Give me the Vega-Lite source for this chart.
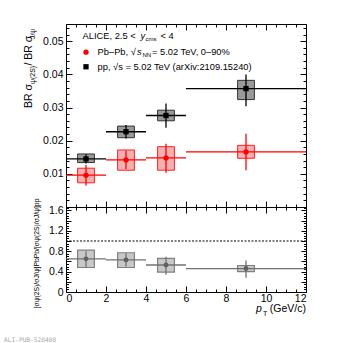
{
  "$schema": "https://vega.github.io/schema/vega-lite/v6.json",
  "padding": {"left": 3, "top": 23, "right": 5, "bottom": 0},
  "spacing": 0,
  "bounds": "flush",
  "config": {
    "view": {"stroke": "black", "strokeWidth": 1},
    "font": "Liberation Sans",
    "axis": {"grid": false, "domain": false, "tickColor": "black", "labelColor": "black", "titleColor": "black", "labelFont": "Liberation Sans", "titleFont": "Liberation Sans", "labelFontSize": 10.5, "titleFontWeight": "normal", "tickWidth": 1}
  },
  "datasets": {
    "pp": [
      {"pt": 1, "ptlo": 0, "pthi": 2, "bx0": 0.58, "bx1": 1.42, "val": 0.0145, "statlo": 0.0131, "stathi": 0.0159, "syslo": 0.0134, "syshi": 0.0160},
      {"pt": 3, "ptlo": 2, "pthi": 4, "bx0": 2.58, "bx1": 3.42, "val": 0.0227, "statlo": 0.0207, "stathi": 0.0247, "syslo": 0.0209, "syshi": 0.0244},
      {"pt": 5, "ptlo": 4, "pthi": 6, "bx0": 4.58, "bx1": 5.42, "val": 0.0276, "statlo": 0.0239, "stathi": 0.0312, "syslo": 0.0260, "syshi": 0.0292},
      {"pt": 9, "ptlo": 6, "pthi": 12, "bx0": 8.58, "bx1": 9.42, "val": 0.0357, "statlo": 0.0304, "stathi": 0.0400, "syslo": 0.0324, "syshi": 0.0382}
    ],
    "pbpb": [
      {"pt": 1, "ptlo": 0, "pthi": 2, "bx0": 0.58, "bx1": 1.42, "val": 0.0096, "statlo": 0.0065, "stathi": 0.0127, "syslo": 0.0073, "syshi": 0.0117},
      {"pt": 3, "ptlo": 2, "pthi": 4, "bx0": 2.58, "bx1": 3.42, "val": 0.0142, "statlo": 0.0115, "stathi": 0.0170, "syslo": 0.0111, "syshi": 0.0172},
      {"pt": 5, "ptlo": 4, "pthi": 6, "bx0": 4.58, "bx1": 5.42, "val": 0.0148, "statlo": 0.0103, "stathi": 0.0191, "syslo": 0.0111, "syshi": 0.0182},
      {"pt": 9, "ptlo": 6, "pthi": 12, "bx0": 8.58, "bx1": 9.42, "val": 0.0166, "statlo": 0.0111, "stathi": 0.0221, "syslo": 0.0147, "syshi": 0.0186}
    ],
    "ratio": [
      {"pt": 1, "ptlo": 0, "pthi": 2, "bx0": 0.58, "bx1": 1.42, "val": 0.65, "statlo": 0.49, "stathi": 0.80, "syslo": 0.48, "syshi": 0.82},
      {"pt": 3, "ptlo": 2, "pthi": 4, "bx0": 2.58, "bx1": 3.42, "val": 0.63, "statlo": 0.50, "stathi": 0.76, "syslo": 0.48, "syshi": 0.77},
      {"pt": 5, "ptlo": 4, "pthi": 6, "bx0": 4.58, "bx1": 5.42, "val": 0.53, "statlo": 0.34, "stathi": 0.69, "syslo": 0.39, "syshi": 0.66},
      {"pt": 9, "ptlo": 6, "pthi": 12, "bx0": 8.58, "bx1": 9.42, "val": 0.46, "statlo": 0.28, "stathi": 0.62, "syslo": 0.40, "syshi": 0.52}
    ],
    "one": [{}]
  },
  "vconcat": [
    {
      "width": 240,
      "height": 183,
      "resolve": {"axis": {"x": "independent", "y": "independent"}},
      "layer": [
        {
          "data": {"name": "pp"},
          "mark": {"type": "rect", "fill": "#9a9a9a", "stroke": "#333333", "strokeWidth": 1},
          "encoding": {
            "x": {"field": "bx0", "type": "quantitative", "scale": {"domain": [0, 12], "nice": false, "zero": false}, "axis": {"orient": "bottom", "labels": false, "tickSize": -6, "values": [0, 2, 4, 6, 8, 10, 12], "title": null}},
            "x2": {"field": "bx1"},
            "y": {"field": "syslo", "type": "quantitative", "scale": {"domain": [0, 0.0552], "nice": false, "zero": false}, "axis": {"orient": "left", "ticks": false, "labelPadding": 3, "values": [0.01, 0.02, 0.03, 0.04, 0.05], "format": ".2f", "title": null}},
            "y2": {"field": "syshi"}
          }
        },
        {
          "data": {"name": "pp"},
          "mark": {"type": "rule", "color": "black", "strokeWidth": 1.3},
          "encoding": {
            "x": {"field": "ptlo", "type": "quantitative", "axis": {"orient": "bottom", "labels": false, "tickSize": -3, "values": [0.5, 1, 1.5, 2.5, 3, 3.5, 4.5, 5, 5.5, 6.5, 7, 7.5, 8.5, 9, 9.5, 10.5, 11, 11.5], "title": null}},
            "x2": {"field": "pthi"},
            "y": {"field": "val", "type": "quantitative", "axis": {"orient": "left", "labels": false, "tickSize": -6, "values": [0.01, 0.02, 0.03, 0.04, 0.05], "title": null}}
          }
        },
        {
          "data": {"name": "pp"},
          "mark": {"type": "rule", "color": "black", "strokeWidth": 1.3},
          "encoding": {
            "x": {"field": "pt", "type": "quantitative", "axis": {"orient": "top", "labels": false, "tickSize": -6, "values": [0, 2, 4, 6, 8, 10, 12], "title": null}},
            "y": {"field": "statlo", "type": "quantitative", "axis": {"orient": "left", "labels": false, "tickSize": -3, "values": [0.002, 0.004, 0.006, 0.008, 0.012, 0.014, 0.016, 0.018, 0.022, 0.024, 0.026, 0.028, 0.032, 0.034, 0.036, 0.038, 0.042, 0.044, 0.046, 0.048, 0.052, 0.054], "title": null}},
            "y2": {"field": "stathi"}
          }
        },
        {
          "data": {"name": "pp"},
          "mark": {"type": "point", "shape": "square", "filled": true, "color": "black", "size": 28, "opacity": 1},
          "encoding": {
            "x": {"field": "pt", "type": "quantitative", "axis": {"orient": "top", "labels": false, "tickSize": -3, "values": [0.5, 1, 1.5, 2.5, 3, 3.5, 4.5, 5, 5.5, 6.5, 7, 7.5, 8.5, 9, 9.5, 10.5, 11, 11.5], "title": null}},
            "y": {"field": "val", "type": "quantitative", "axis": {"orient": "right", "labels": false, "tickSize": -6, "values": [0.01, 0.02, 0.03, 0.04, 0.05], "title": null}}
          }
        },
        {
          "data": {"name": "pbpb"},
          "mark": {"type": "rect", "fill": "#f4b0b0", "stroke": "#ff2020", "strokeWidth": 1},
          "encoding": {
            "x": {"field": "bx0", "type": "quantitative", "axis": null},
            "x2": {"field": "bx1"},
            "y": {"field": "syslo", "type": "quantitative", "axis": {"orient": "right", "labels": false, "tickSize": -3, "values": [0.002, 0.004, 0.006, 0.008, 0.012, 0.014, 0.016, 0.018, 0.022, 0.024, 0.026, 0.028, 0.032, 0.034, 0.036, 0.038, 0.042, 0.044, 0.046, 0.048, 0.052, 0.054], "title": null}},
            "y2": {"field": "syshi"}
          }
        },
        {
          "data": {"name": "pbpb"},
          "mark": {"type": "rule", "color": "#ff0000", "strokeWidth": 1.3},
          "encoding": {
            "x": {"field": "ptlo", "type": "quantitative", "axis": null},
            "x2": {"field": "pthi"},
            "y": {"field": "val", "type": "quantitative", "axis": null}
          }
        },
        {
          "data": {"name": "pbpb"},
          "mark": {"type": "rule", "color": "#ff0000", "strokeWidth": 1.3},
          "encoding": {
            "x": {"field": "pt", "type": "quantitative", "axis": null},
            "y": {"field": "statlo", "type": "quantitative", "axis": null},
            "y2": {"field": "stathi"}
          }
        },
        {
          "data": {"name": "pbpb"},
          "mark": {"type": "point", "shape": "circle", "filled": true, "color": "#ff0000", "size": 28, "opacity": 1},
          "encoding": {
            "x": {"field": "pt", "type": "quantitative", "axis": null},
            "y": {"field": "val", "type": "quantitative", "axis": null}
          }
        },
        {
          "data": {"name": "one"},
          "mark": {"type": "point", "shape": "circle", "filled": true, "color": "#ff0000", "size": 28, "opacity": 1},
          "encoding": {
            "x": {"datum": 1.0, "type": "quantitative", "axis": null},
            "y": {"datum": 0.0467, "type": "quantitative", "axis": null}
          }
        },
        {
          "data": {"name": "one"},
          "mark": {"type": "point", "shape": "square", "filled": true, "color": "black", "size": 28, "opacity": 1},
          "encoding": {
            "x": {"datum": 1.0, "type": "quantitative", "axis": null},
            "y": {"datum": 0.0423, "type": "quantitative", "axis": null}
          }
        },
        {
          "data": {"name": "one"},
          "mark": {"type": "text", "align": "left", "baseline": "middle", "fontSize": 9.3, "color": "black"},
          "encoding": {
            "x": {"datum": 0.83, "type": "quantitative", "axis": null},
            "y": {"datum": 0.0517, "type": "quantitative", "axis": null},
            "text": {"value": "ALICE, 2.5 <"}
          }
        },
        {
          "data": {"name": "one"},
          "mark": {"type": "text", "align": "left", "baseline": "middle", "fontSize": 9.3, "fontStyle": "italic", "color": "black"},
          "encoding": {
            "x": {"datum": 3.72, "type": "quantitative", "axis": null},
            "y": {"datum": 0.0517, "type": "quantitative", "axis": null},
            "text": {"value": "y"}
          }
        },
        {
          "data": {"name": "one"},
          "mark": {"type": "text", "align": "left", "baseline": "middle", "fontSize": 6, "color": "black"},
          "encoding": {
            "x": {"datum": 3.98, "type": "quantitative", "axis": null},
            "y": {"datum": 0.0508, "type": "quantitative", "axis": null},
            "text": {"value": "cms"}
          }
        },
        {
          "data": {"name": "one"},
          "mark": {"type": "text", "align": "left", "baseline": "middle", "fontSize": 9.3, "color": "black"},
          "encoding": {
            "x": {"datum": 4.72, "type": "quantitative", "axis": null},
            "y": {"datum": 0.0517, "type": "quantitative", "axis": null},
            "text": {"value": "< 4"}
          }
        },
        {
          "data": {"name": "one"},
          "mark": {"type": "text", "align": "left", "baseline": "middle", "fontSize": 9.3, "color": "black"},
          "encoding": {
            "x": {"datum": 1.58, "type": "quantitative", "axis": null},
            "y": {"datum": 0.0467, "type": "quantitative", "axis": null},
            "text": {"value": "Pb–Pb, √"}
          }
        },
        {
          "data": {"name": "one"},
          "mark": {"type": "text", "align": "left", "baseline": "middle", "fontSize": 9.3, "fontStyle": "italic", "color": "black"},
          "encoding": {
            "x": {"datum": 3.55, "type": "quantitative", "axis": null},
            "y": {"datum": 0.0467, "type": "quantitative", "axis": null},
            "text": {"value": "s"}
          }
        },
        {
          "data": {"name": "one"},
          "mark": {"type": "text", "align": "left", "baseline": "middle", "fontSize": 6, "color": "black"},
          "encoding": {
            "x": {"datum": 3.82, "type": "quantitative", "axis": null},
            "y": {"datum": 0.0458, "type": "quantitative", "axis": null},
            "text": {"value": "NN"}
          }
        },
        {
          "data": {"name": "one"},
          "mark": {"type": "text", "align": "left", "baseline": "middle", "fontSize": 9.3, "color": "black"},
          "encoding": {
            "x": {"datum": 4.3, "type": "quantitative", "axis": null},
            "y": {"datum": 0.0467, "type": "quantitative", "axis": null},
            "text": {"value": "= 5.02 TeV, 0–90%"}
          }
        },
        {
          "data": {"name": "one"},
          "mark": {"type": "text", "align": "left", "baseline": "middle", "fontSize": 9.3, "color": "black"},
          "encoding": {
            "x": {"datum": 1.58, "type": "quantitative", "axis": null},
            "y": {"datum": 0.0423, "type": "quantitative", "axis": null},
            "text": {"value": "pp, √s = 5.02 TeV (arXiv:2109.15240)"}
          }
        },
        {
          "data": {"name": "one"},
          "mark": {"type": "text", "align": "left", "baseline": "middle", "fontSize": 10.5, "angle": 270, "color": "black"},
          "encoding": {
            "x": {"datum": -1.875, "type": "quantitative", "axis": null},
            "y": {"datum": 0.02985, "type": "quantitative", "axis": null},
            "text": {"value": "BR σ"}
          }
        },
        {
          "data": {"name": "one"},
          "mark": {"type": "text", "align": "left", "baseline": "middle", "fontSize": 7, "angle": 270, "color": "black"},
          "encoding": {
            "x": {"datum": -1.66, "type": "quantitative", "axis": null},
            "y": {"datum": 0.03709, "type": "quantitative", "axis": null},
            "text": {"value": "ψ(2S)"}
          }
        },
        {
          "data": {"name": "one"},
          "mark": {"type": "text", "align": "left", "baseline": "middle", "fontSize": 10.5, "angle": 270, "color": "black"},
          "encoding": {
            "x": {"datum": -1.875, "type": "quantitative", "axis": null},
            "y": {"datum": 0.04267, "type": "quantitative", "axis": null},
            "text": {"value": "/ BR σ"}
          }
        },
        {
          "data": {"name": "one"},
          "mark": {"type": "text", "align": "left", "baseline": "middle", "fontSize": 7, "angle": 270, "color": "black"},
          "encoding": {
            "x": {"datum": -1.66, "type": "quantitative", "axis": null},
            "y": {"datum": 0.05065, "type": "quantitative", "axis": null},
            "text": {"value": "J/ψ"}
          }
        }
      ]
    },
    {
      "width": 240,
      "height": 85,
      "resolve": {"axis": {"x": "independent", "y": "independent"}},
      "layer": [
        {
          "data": {"name": "ratio"},
          "mark": {"type": "rect", "fill": "#c8c8c8", "stroke": "#808080", "strokeWidth": 1.2},
          "encoding": {
            "x": {"field": "bx0", "type": "quantitative", "scale": {"domain": [0, 12], "nice": false, "zero": false}, "axis": {"orient": "bottom", "ticks": false, "labelPadding": 1, "values": [0, 2, 4, 6, 8, 10, 12], "format": "d", "title": null}},
            "x2": {"field": "bx1"},
            "y": {"field": "syslo", "type": "quantitative", "scale": {"domain": [0, 1.667], "nice": false, "zero": false}, "axis": {"orient": "left", "ticks": false, "labelPadding": 3, "values": [0, 0.2, 0.4, 0.6, 0.8, 1, 1.2, 1.4, 1.6], "format": "~g", "title": "[σψ(2S)/σJ/ψ]PbPb/[σψ(2S)/σJ/ψ]pp", "titleFontSize": 6.8, "titleX": -30, "titleY": 46, "titleAngle": 270, "titleAlign": "center", "titleBaseline": "middle"}},
            "y2": {"field": "syshi"}
          }
        },
        {
          "data": {"name": "ratio"},
          "mark": {"type": "rule", "color": "#707070", "strokeWidth": 1.3},
          "encoding": {
            "x": {"field": "ptlo", "type": "quantitative", "axis": {"orient": "bottom", "labels": false, "tickSize": -6, "values": [0, 2, 4, 6, 8, 10, 12], "title": null}},
            "x2": {"field": "pthi"},
            "y": {"field": "val", "type": "quantitative", "axis": {"orient": "left", "labels": false, "tickSize": -5, "values": [0, 0.2, 0.4, 0.6, 0.8, 1, 1.2, 1.4, 1.6], "title": null}}
          }
        },
        {
          "data": {"name": "ratio"},
          "mark": {"type": "rule", "color": "#707070", "strokeWidth": 1.3},
          "encoding": {
            "x": {"field": "pt", "type": "quantitative", "axis": {"orient": "bottom", "labels": false, "tickSize": -3, "values": [0.5, 1, 1.5, 2.5, 3, 3.5, 4.5, 5, 5.5, 6.5, 7, 7.5, 8.5, 9, 9.5, 10.5, 11, 11.5], "title": null}},
            "y": {"field": "statlo", "type": "quantitative", "axis": {"orient": "left", "labels": false, "tickSize": -2.5, "values": [0.05, 0.1, 0.15, 0.25, 0.3, 0.35, 0.45, 0.5, 0.55, 0.65, 0.7, 0.75, 0.85, 0.9, 0.95, 1.05, 1.1, 1.15, 1.25, 1.3, 1.35, 1.45, 1.5, 1.55, 1.65], "title": null}},
            "y2": {"field": "stathi"}
          }
        },
        {
          "data": {"name": "ratio"},
          "mark": {"type": "point", "shape": "circle", "filled": true, "color": "#606060", "size": 24, "opacity": 1},
          "encoding": {
            "x": {"field": "pt", "type": "quantitative", "axis": {"orient": "top", "labels": false, "tickSize": -6, "values": [0, 2, 4, 6, 8, 10, 12], "title": null}},
            "y": {"field": "val", "type": "quantitative", "axis": {"orient": "right", "labels": false, "tickSize": -5, "values": [0, 0.2, 0.4, 0.6, 0.8, 1, 1.2, 1.4, 1.6], "title": null}}
          }
        },
        {
          "data": {"name": "one"},
          "mark": {"type": "rule", "color": "black", "strokeWidth": 1, "strokeDash": [2, 1.5]},
          "encoding": {
            "x": {"datum": 0, "type": "quantitative", "axis": {"orient": "top", "labels": false, "tickSize": -3, "values": [0.5, 1, 1.5, 2.5, 3, 3.5, 4.5, 5, 5.5, 6.5, 7, 7.5, 8.5, 9, 9.5, 10.5, 11, 11.5], "title": null}},
            "x2": {"datum": 12},
            "y": {"datum": 1, "type": "quantitative", "axis": {"orient": "right", "labels": false, "tickSize": -2.5, "values": [0.05, 0.1, 0.15, 0.25, 0.3, 0.35, 0.45, 0.5, 0.55, 0.65, 0.7, 0.75, 0.85, 0.9, 0.95, 1.05, 1.1, 1.15, 1.25, 1.3, 1.35, 1.45, 1.5, 1.55, 1.65], "title": null}}
          }
        },
        {
          "data": {"name": "one"},
          "mark": {"type": "text", "align": "right", "baseline": "middle", "fontSize": 10.5, "color": "black"},
          "encoding": {
            "x": {"datum": 12, "type": "quantitative", "axis": null},
            "y": {"datum": -0.333, "type": "quantitative", "axis": null},
            "text": {"value": "(GeV/c)"}
          }
        },
        {
          "data": {"name": "one"},
          "mark": {"type": "text", "align": "left", "baseline": "middle", "fontSize": 10.5, "fontStyle": "italic", "color": "black"},
          "encoding": {
            "x": {"datum": 9.5, "type": "quantitative", "axis": null},
            "y": {"datum": -0.333, "type": "quantitative", "axis": null},
            "text": {"value": "p"}
          }
        },
        {
          "data": {"name": "one"},
          "mark": {"type": "text", "align": "left", "baseline": "middle", "fontSize": 7, "color": "black"},
          "encoding": {
            "x": {"datum": 9.85, "type": "quantitative", "axis": null},
            "y": {"datum": -0.43, "type": "quantitative", "axis": null},
            "text": {"value": "T"}
          }
        },
        {
          "data": {"name": "one"},
          "mark": {"type": "text", "align": "left", "baseline": "middle", "fontSize": 6.2, "font": "DejaVu Sans Mono", "color": "#a8a8a8"},
          "encoding": {
            "x": {"datum": -3.1, "type": "quantitative", "axis": null},
            "y": {"datum": -0.94, "type": "quantitative", "axis": null},
            "text": {"value": "ALI-PUB-528408"}
          }
        }
      ]
    }
  ]
}
